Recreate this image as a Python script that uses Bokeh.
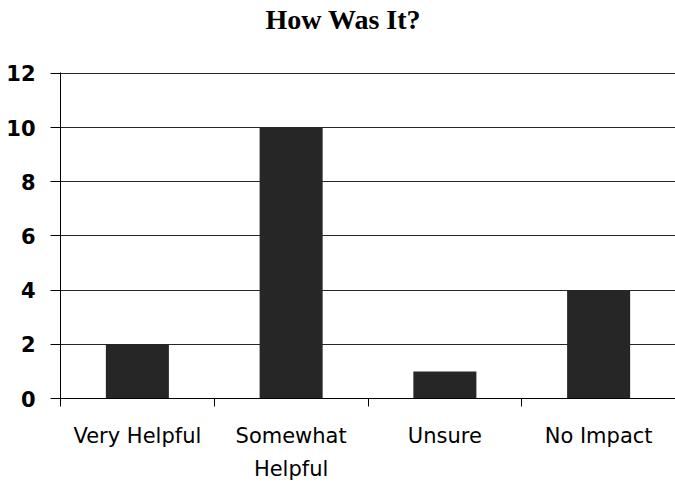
from bokeh.plotting import figure
from bokeh.models import Range1d, LinearAxis, FixedTicker, ColumnDataSource, Title
from bokeh.embed import file_html
from bokeh.resources import INLINE

title_text = "How Was It?"
categories = ["Very Helpful", "Somewhat\nHelpful", "Unsure", "No Impact"]
values = [2, 10, 1, 4]
y_ticks = [0, 2, 4, 6, 8, 10, 12]

n = len(categories)
centers = [i + 0.5 for i in range(n)]
bounds = [float(i) for i in range(n + 1)]

src = ColumnDataSource(dict(x=centers, val=values))

p = figure(width=675, height=484, output_backend="svg", toolbar_location=None,
           title=None,
           x_range=Range1d(0, n), y_range=Range1d(0, 12.03),
           x_axis_location=None, min_border_left=60, min_border_right=0,
           min_border_top=72, min_border_bottom=84)
p.outline_line_color = None
p.background_fill_color = "white"

p.vbar(x="x", top="val", width=0.41, source=src, fill_color="#262626", line_color=None)

# y axis
yax = p.yaxis[0]
yax.ticker = FixedTicker(ticks=y_ticks)
yax.axis_line_color = "black"
yax.major_tick_line_color = "black"
yax.major_tick_out = 10
yax.major_tick_in = 0
yax.minor_tick_line_color = None
yax.major_label_text_font = "DejaVu Sans"
yax.major_label_text_font_style = "bold"
yax.major_label_text_font_size = "21px"
yax.major_label_text_color = "black"
yax.major_label_standoff = 15

p.ygrid.ticker = FixedTicker(ticks=y_ticks)
p.ygrid.grid_line_color = "black"
p.ygrid.grid_line_alpha = 0.85
p.xgrid.grid_line_color = None

# boundary tick axis
tick_axis = LinearAxis(ticker=FixedTicker(ticks=bounds),
                       axis_line_color="black", major_tick_line_color="black",
                       major_tick_out=8, major_tick_in=0, minor_tick_line_color=None,
                       major_label_text_font_size="1px", major_label_text_alpha=0,
                       major_label_standoff=0)
p.add_layout(tick_axis, "below")

label_axis = LinearAxis(ticker=FixedTicker(ticks=centers),
                        major_label_overrides={c: lab for c, lab in zip(centers, categories)},
                        axis_line_color=None, major_tick_line_color=None,
                        minor_tick_line_color=None,
                        major_label_text_font="DejaVu Sans",
                        major_label_text_font_size="21px",
                        major_label_text_color="black",
                        major_label_text_line_height=1.4,
                        major_label_standoff=11)
p.add_layout(label_axis, "below")

# invisible spacer between frame and title, then the title itself
spacer = Title(text=" ", text_font_size="1px", standoff=35)
p.add_layout(spacer, "above")
main_title = Title(text=title_text, align="left", offset=205, standoff=0,
                   text_font="Liberation Serif", text_font_style="bold",
                   text_font_size="28px", text_color="black")
p.add_layout(main_title, "above")

open("out.html", "w").write(file_html(p, INLINE))
